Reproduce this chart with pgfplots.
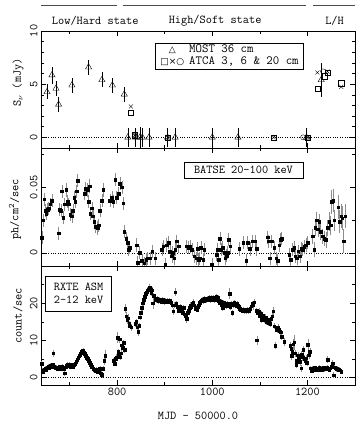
\documentclass[border=0pt]{standalone}
\usepackage{fontspec}
\usepackage{pgfplots}
\usepackage{pgfplotstable}
\pgfplotsset{compat=1.18}
\newfontfamily\symf{DejaVu Sans}
\newcommand\fs{\ttfamily\fontsize{12bp}{13bp}\selectfont}
\newcommand\fl{\ttfamily\fontsize{12.5bp}{11.5bp}\selectfont}

\pgfplotstableread{
x y e
652.6 4.27 0.7
663 5.85 0.8
671.5 4.6 0.7
677 3.1 0.7
705 4.9 0.7
740 6.6 0.7
768 5.4 0.7
790 4.9 0.7
815 4.05 0.7
822.5 0 0.9
839 0 0.9
848 0 1.0
853 0 0.9
867 0 0.9
906 0 0.9
922 0 0.9
1000 0 0.9
1054 0 0.9
1198 0 0.9
1229 5.4 1.6
}\most
\pgfplotstableread{
x y
829 2.3
837 0.2
906 0
1129 0
1201 0
1222 4.6
1236 5.75
1242 6.1
1271 5.1
}\atcasq
\pgfplotstableread{
x y
829 2.9
837 0.2
906 0
1129 0
1201 0
1221 6.1
1242 6.2
1271 4.75
}\atcax
\pgfplotstableread{
x y
837 0.1
1191 0
1233 6.2
}\atcaci

\pgfplotstableread{
x y e
642 0.0114 0.005
644 0.025 0.005
647 0.041 0.005
649 0.032 0.005
651 0.030 0.005
654 0.033 0.005
656 0.034 0.005
659.5 0.037 0.005
663 0.040 0.005
677 0.015 0.005
679 0.033 0.005
682 0.032 0.005
684 0.047 0.005
687 0.027 0.005
690 0.037 0.005
693 0.048 0.005
696 0.039 0.005
698 0.037 0.005
701 0.029 0.005
705 0.028 0.005
707 0.032 0.005
710 0.042 0.005
712 0.039 0.005
715 0.047 0.005
717 0.055 0.005
731.5 0.045 0.005
734 0.049 0.005
738 0.048 0.005
740 0.039 0.005
742 0.051 0.005
743 0.030 0.005
747 0.034 0.005
749 0.028 0.005
752 0.024 0.005
755 0.020 0.005
759 0.019 0.005
761 0.021 0.005
764 0.032 0.005
768 0.040 0.005
771 0.048 0.005
785 0.040 0.005
789 0.042 0.005
792 0.039 0.005
796 0.056 0.005
799 0.042 0.005
803 0.045 0.005
806 0.053 0.005
810 0.050 0.005
813 0.038 0.005
815 0.016 0.005
819 0.011 0.005
822 0.0076 0.005
824 0.0025 0.005
826 0.004 0.005
841 0.006 0.005
843 -0.0076 0.005
847 0 0.005
852 -0.006 0.005
857 -0.008 0.005
861 -0.005 0.005
864 -0.004 0.005
869 -0.004 0.005
874 0.0013 0.005
880 -0.004 0.005
894 0.0025 0.005
897 0.005 0.005
901 -0.009 0.005
904 0.006 0.005
908 0.008 0.005
911 0.001 0.005
915 -0.0025 0.005
917 0 0.005
920 -0.004 0.005
922 0.0025 0.005
925 0.009 0.005
929 0.005 0.005
946 0.005 0.005
950 0.004 0.005
953 0.005 0.005
957 0.0025 0.005
962 -0.0025 0.005
966 -0.004 0.005
969 0.003 0.005
971 -0.005 0.005
973 -0.004 0.005
976 0.004 0.005
981 -0.005 0.005
983 0.0025 0.005
999.4 -0.009 0.005
1009 -0.0013 0.005
1011 0.0025 0.005
1013 -0.005 0.005
1016 0.011 0.005
1018 0.0025 0.005
1022 0.004 0.005
1025 0 0.005
1027.5 -0.004 0.005
1030 -0.002 0.005
1032 0 0.005
1034.3 0.010 0.005
1038 0.005 0.005
1057 0.003 0.005
1065 0.0076 0.005
1071 -0.006 0.005
1074 0.0076 0.005
1079 0.003 0.005
1085 0.009 0.005
1090 0.009 0.005
1093 0.003 0.005
1116 0.012 0.005
1118 0.009 0.005
1121 -0.004 0.005
1125 0.009 0.005
1130 0.004 0.005
1134 -0.004 0.005
1137 -0.006 0.005
1141 0.006 0.005
1144 0.010 0.005
1146 0.011 0.005
1162 -0.0013 0.005
1165 -0.005 0.005
1169 0.0025 0.005
1172 0.004 0.005
1174 -0.0025 0.005
1178 -0.004 0.005
1181 0.0013 0.005
1184 -0.0025 0.005
1187 0.003 0.005
1190 0.0025 0.005
1193 0.0045 0.005
1197 0.006 0.005
1200 0.0076 0.005
1211 0.0126 0.006
1214 0.0025 0.006
1216 0.019 0.006
1219 0.025 0.006
1222 0.018 0.006
1225 0.024 0.006
1228 0.016 0.006
1232 0.0126 0.006
1235 0.011 0.006
1239 0.010 0.006
1242 0.019 0.006
1245.5 0.024 0.007
1249 0.021 0.007
1251 0.039 0.009
1254 0.040 0.009
1256 0.025 0.008
1265 0.035 0.009
1268 0.024 0.009
1271 0.028 0.009
1273.5 0.0265 0.009
1276 0.009 0.009
1279 0.028 0.009
}\batse

\pgfplotstableread{
x y e
641 3.8 0.6
643 2.0 0.6
645 1.5 0.6
647 2.2 0.6
649 2.5 0.6
651 2.0 0.6
653 2.8 0.6
655 3.0 0.6
657 2.6 0.6
659 3.3 0.6
661 3.1 0.6
663 2.8 0.6
665 3.4 0.6
666 6.5 1.0
668 3.0 0.6
670 2.5 0.6
672 2.8 0.6
674 2.3 0.6
676 2.6 0.6
678 2.9 0.6
680 2.4 0.6
682 2.7 0.6
684 3.0 0.6
686 2.5 0.6
688 2.2 0.6
690 1.2 0.8
692 2.8 0.6
694 3.3 0.6
696 3.6 0.6
698 3.2 0.6
700 3.5 0.6
702 3.0 0.6
704 3.4 0.6
706 3.2 0.6
708 2.8 0.6
710 3.3 0.6
712 3.7 0.6
714 4.2 0.6
716 4.8 0.6
718 5.3 0.6
720 5.8 0.6
722 6.2 0.6
724 6.6 0.6
726 7.0 0.6
728 7.3 0.6
730 6.8 0.6
732 6.4 0.6
734 5.9 0.6
736 5.4 0.6
738 5.0 0.6
740 4.6 0.6
742 4.0 0.6
744 3.5 0.6
746 3.0 0.6
748 2.8 0.6
750 2.4 0.6
752 2.0 0.6
754 1.8 0.6
756 2.2 0.6
758 1.6 0.6
760 2.3 0.6
762 1.8 0.6
764 2.5 0.6
766 1.2 0.8
768 0.8 0.8
770 2.4 0.6
773 4.5 1.0
775 5.8 1.5
793 4.5 0.8
795 3.8 0.8
797 5.0 0.8
799 5.5 0.8
801 10.8 1.5
802 7.0 0.8
803 6.0 0.8
805 10.3 1.0
806 5.5 0.8
808 6.5 0.8
810 8.7 0.8
812 8.0 0.8
814 9.3 0.8
816 7.5 0.8
817 18.5 1.2
819 16.5 1.0
821 15.5 1.0
823 16.0 1.0
825 14.5 0.8
827 13.8 0.8
830 13.5 1.0
838 14.5 0.8
840 15.0 0.8
842 13.5 0.8
844 12.3 1.0
846 14.0 0.8
848 16.2 0.8
850 17.5 0.8
852 18.8 0.8
854 20.0 0.8
856 21.0 0.8
858 21.8 0.8
860 22.5 0.8
862 23.0 0.8
864 23.5 0.8
866 23.8 0.8
868 24.3 0.8
870 23.7 0.8
872 22.8 0.8
874 23.5 0.8
875 20.0 1.5
877 22.0 0.8
880 21.0 0.7
882 20.8 0.7
884 21.2 0.7
886 20.6 0.7
888 21.0 0.7
890 20.5 0.7
892 20.8 0.7
894 20.4 0.7
896 20.9 0.7
898 20.6 0.7
900 20.3 0.7
902 20.7 0.7
904 20.5 0.7
906 20.8 0.7
908 20.4 0.7
910 20.6 0.7
912 20.3 0.7
914 20.0 0.7
916 19.5 0.7
918 17.8 1.0
920 19.5 0.7
922 23.0 1.0
924 19.8 0.7
926 19.0 0.7
928 18.5 0.7
930 18.0 0.7
932 19.2 0.7
934 18.6 0.7
936 18.0 0.7
938 17.5 0.7
940 18.8 0.7
942 17.0 0.7
944 16.5 0.7
946 15.8 1.0
948 17.5 0.7
950 18.0 0.7
952 18.8 0.7
954 19.5 0.7
956 19.0 0.7
958 19.8 0.7
960 20.3 0.7
962 19.5 0.7
964 18.5 0.7
966 18.8 0.7
968 18.2 0.7
970 19.0 0.7
972 19.5 0.7
974 20.2 0.7
976 20.5 0.7
978 20.8 0.7
980 21.0 0.7
982 20.5 0.7
984 21.2 0.7
986 21.0 0.7
988 20.8 0.7
990 21.3 0.7
992 20.9 0.7
994 21.5 0.7
996 20.8 0.7
998 21.4 0.7
1000 21.0 0.7
1002 21.6 0.7
1004 20.8 0.7
1006 21.3 0.7
1008 21.7 0.7
1010 21.0 0.7
1012 21.4 0.7
1014 20.6 0.7
1016 20.0 0.7
1018 20.5 0.7
1020 19.6 0.7
1022 18.7 0.7
1024 20.2 0.7
1026 19.5 0.7
1028 19.9 0.7
1030 19.2 0.7
1032 20.0 0.7
1034 19.5 0.7
1036 22.5 1.5
1038 19.0 0.7
1040 19.8 0.7
1042 17.4 0.8
1044 19.5 0.7
1046 20.2 0.7
1048 19.8 0.7
1050 19.3 0.7
1052 20.0 0.7
1054 19.5 0.7
1056 19.0 0.7
1058 18.5 0.7
1060 18.2 0.7
1062 18.4 0.7
1064 18.0 0.7
1066 18.3 0.7
1068 17.9 0.7
1070 18.1 0.7
1072 17.8 0.7
1074 18.2 0.7
1076 17.8 0.7
1078 18.1 0.7
1080 18.5 0.7
1082 19.2 0.7
1084 20.0 0.7
1086 19.5 1.2
1088 20.3 0.7
1093 18.0 0.8
1094 10.0 1.2
1096 17.5 0.8
1098 17.8 0.8
1100 16.5 0.8
1102 17.2 0.8
1104 15.5 0.8
1106 16.8 0.8
1108 16.0 0.8
1110 15.5 0.8
1112 16.2 0.8
1114 15.0 0.8
1116 15.6 0.8
1118 14.8 0.8
1120 15.3 0.8
1122 14.5 0.8
1124 15.8 0.8
1126 16.5 0.8
1128 17.8 1.2
1130 13.8 0.8
1132 8.6 1.0
1134 13.2 0.8
1136 12.8 0.8
1138 13.5 0.8
1140 13.0 0.8
1142 12.5 0.8
1144 12.2 0.8
1146 11.0 1.0
1151 9.6 1.0
1164 8.5 1.0
1166 7.8 1.0
1167 5.8 1.0
1168 7.0 1.0
1170 9.0 1.5
1172 9.5 2.0
1174 6.5 1.0
1176 3.5 1.0
1178 4.5 1.0
1180 6.0 1.0
1182 5.0 1.0
1184 4.2 1.0
1186 5.5 1.0
1187 2.5 1.0
1188 6.2 1.0
1190 5.5 1.0
1191 7.5 1.0
1193 5.0 1.0
1195 4.5 1.0
1197 5.2 1.0
1199 4.0 1.0
1201 8.8 1.5
1203 6.0 1.0
1205 7.0 1.0
1207 2.5 0.7
1209 1.8 0.6
1211 2.4 0.6
1213 2.0 0.6
1215 2.6 0.6
1217 2.2 0.6
1219 2.5 0.6
1221 2.0 0.6
1223 2.3 0.6
1225 2.7 0.6
1227 2.1 0.6
1229 2.4 0.6
1231 2.0 0.6
1233 2.6 0.6
1235 2.2 0.6
1237 2.5 0.6
1239 2.3 0.6
1241 2.8 0.6
1242 4.8 1.0
1244 2.4 0.6
1246 2.0 0.6
1248 2.5 0.6
1250 3.0 0.6
1252 3.5 0.6
1253 3.9 0.8
1255 0.6 0.8
1257 2.8 0.6
1259 2.5 0.6
1261 2.2 0.6
1263 2.4 0.6
1265 2.0 0.6
1267 2.2 0.6
1269 2.0 0.6
1271 1.6 0.6
}\asm

\pgfplotsset{panel/.style={
  scale only axis, width=314bp, xmin=640, xmax=1300,
  tick align=inside, major tick length=5bp, minor tick length=3bp,
  xtick={800,1000,1200}, minor xtick={700,900,1100}, xticklabels={},
  tick style={black, line width=0.5bp},
  axis line style={line width=0.6bp},
  every tick label/.append style={font=\fs},
  yticklabel style={rotate=90, anchor=south},
  every axis y label/.style={rotate=90, anchor=center, font=\fs},
  scaled y ticks=false,
}}

\begin{document}
\begin{tikzpicture}
\useasboundingbox (0,0) rectangle (364bp,425bp);

% top panel: radio
\begin{axis}[panel, at={(41bp,277bp)}, anchor=south west, height=117bp,
  ymin=-1, ymax=10, ytick={0,5,10}, yticklabels={0,5,10},
  minor ytick={1,2,3,4,6,7,8,9},
  ylabel={S$_\nu$ (mJy)},
  ylabel style={at={(axis description cs:-0.073,0.56)}},
  clip=false]
\addplot[dotted, forget plot] coordinates {(640,0) (1300,0)};
\addplot[only marks, mark=triangle, mark size=3.6bp, black,
  error bars/.cd, y dir=both, y explicit, error mark=none,
  error bar style={black, line width=0.5bp}]
  table[x=x, y=y, y error=e]{\most};
\addplot[only marks, mark=square, mark size=2.6bp, black] table[x=x,y=y]{\atcasq};
\addplot[only marks, mark=x, mark size=2.8bp, black] table[x=x,y=y]{\atcax};
\addplot[only marks, mark=o, mark size=2.6bp, black] table[x=x,y=y]{\atcaci};
% state headers
\draw[black!70, line width=0.8bp] (axis cs:640,12.36) -- (axis cs:800,12.36);
\draw[black!70, line width=0.8bp] (axis cs:812,12.36) -- (axis cs:1197,12.36);
\draw[black!70, line width=0.8bp] (axis cs:1211,12.36) -- (axis cs:1300,12.36);
\node[font=\fs] at (axis cs:754,10.94) {Low/Hard state};
\node[font=\fs] at (axis cs:1006,10.94) {High/Soft state};
\node[font=\fs] at (axis cs:1257,10.94) {L/H};
% legend
\node[draw, line width=0.6bp, anchor=north west, inner sep=0pt,
  minimum width=148bp, minimum height=26bp, font=\fl]
  at (axis cs:880,8.87)
  {\begin{tabular}{@{}c@{\hspace{5bp}}l@{}}
   {\symf\fontsize{9bp}{9bp}\selectfont △} & MOST 36 cm\\
   {\symf\fontsize{9bp}{9bp}\selectfont □×○} & ATCA 3, 6 \& 20 cm
   \end{tabular}};
\end{axis}

% middle panel: BATSE
\begin{axis}[panel, at={(41bp,159bp)}, anchor=south west, height=118bp,
  ymin=-0.01, ymax=0.08, ytick={0,0.05}, yticklabels={0,0.05},
  minor ytick={0.025,0.075},
  ylabel={ph/cm$^{\mathtt{2}}$/sec},
  ylabel style={at={(axis description cs:-0.083,0.48)}}]
\addplot[dotted, forget plot] coordinates {(640,0) (1300,0)};
\addplot[only marks, mark=square*, mark size=1.3bp, black,
  error bars/.cd, y dir=both, y explicit, error mark=none,
  error bar style={black!45, line width=0.6bp}]
  table[x=x, y=y, y error=e]{\batse};
\node[draw, line width=0.6bp, font=\fs, minimum width=119bp,
  minimum height=16bp, inner sep=0pt]
  at (axis cs:1065.6,0.0631) {BATSE 20\textendash100 keV};
\end{axis}

% bottom panel: RXTE ASM
\begin{axis}[panel, at={(41bp,40bp)}, anchor=south west, height=119bp,
  ymin=-2, ymax=30, ytick={0,10,20}, yticklabels={0,10,20},
  minor ytick={5,15,25},
  xticklabels={800,1000,1200},
  xlabel={MJD \textendash{} 50000.0},
  xlabel style={font=\fs, at={(axis description cs:0.5,-0.26)}, anchor=center},
  ylabel={count/sec},
  ylabel style={at={(axis description cs:-0.073,0.58)}}]
\addplot[dotted, forget plot] coordinates {(640,0) (1300,0)};
\addplot[only marks, mark=square*, mark size=1.3bp, black,
  error bars/.cd, y dir=both, y explicit, error mark=none,
  error bar style={black!45, line width=0.6bp}]
  table[x=x, y=y, y error=e]{\asm};
\node[draw, line width=0.6bp, font=\fs, anchor=north west, align=left,
  minimum width=66bp, minimum height=35bp, inner sep=3bp]
  at (axis cs:649,27.4) {RXTE ASM\\2\textendash12 keV};
\end{axis}
\end{tikzpicture}
\end{document}
